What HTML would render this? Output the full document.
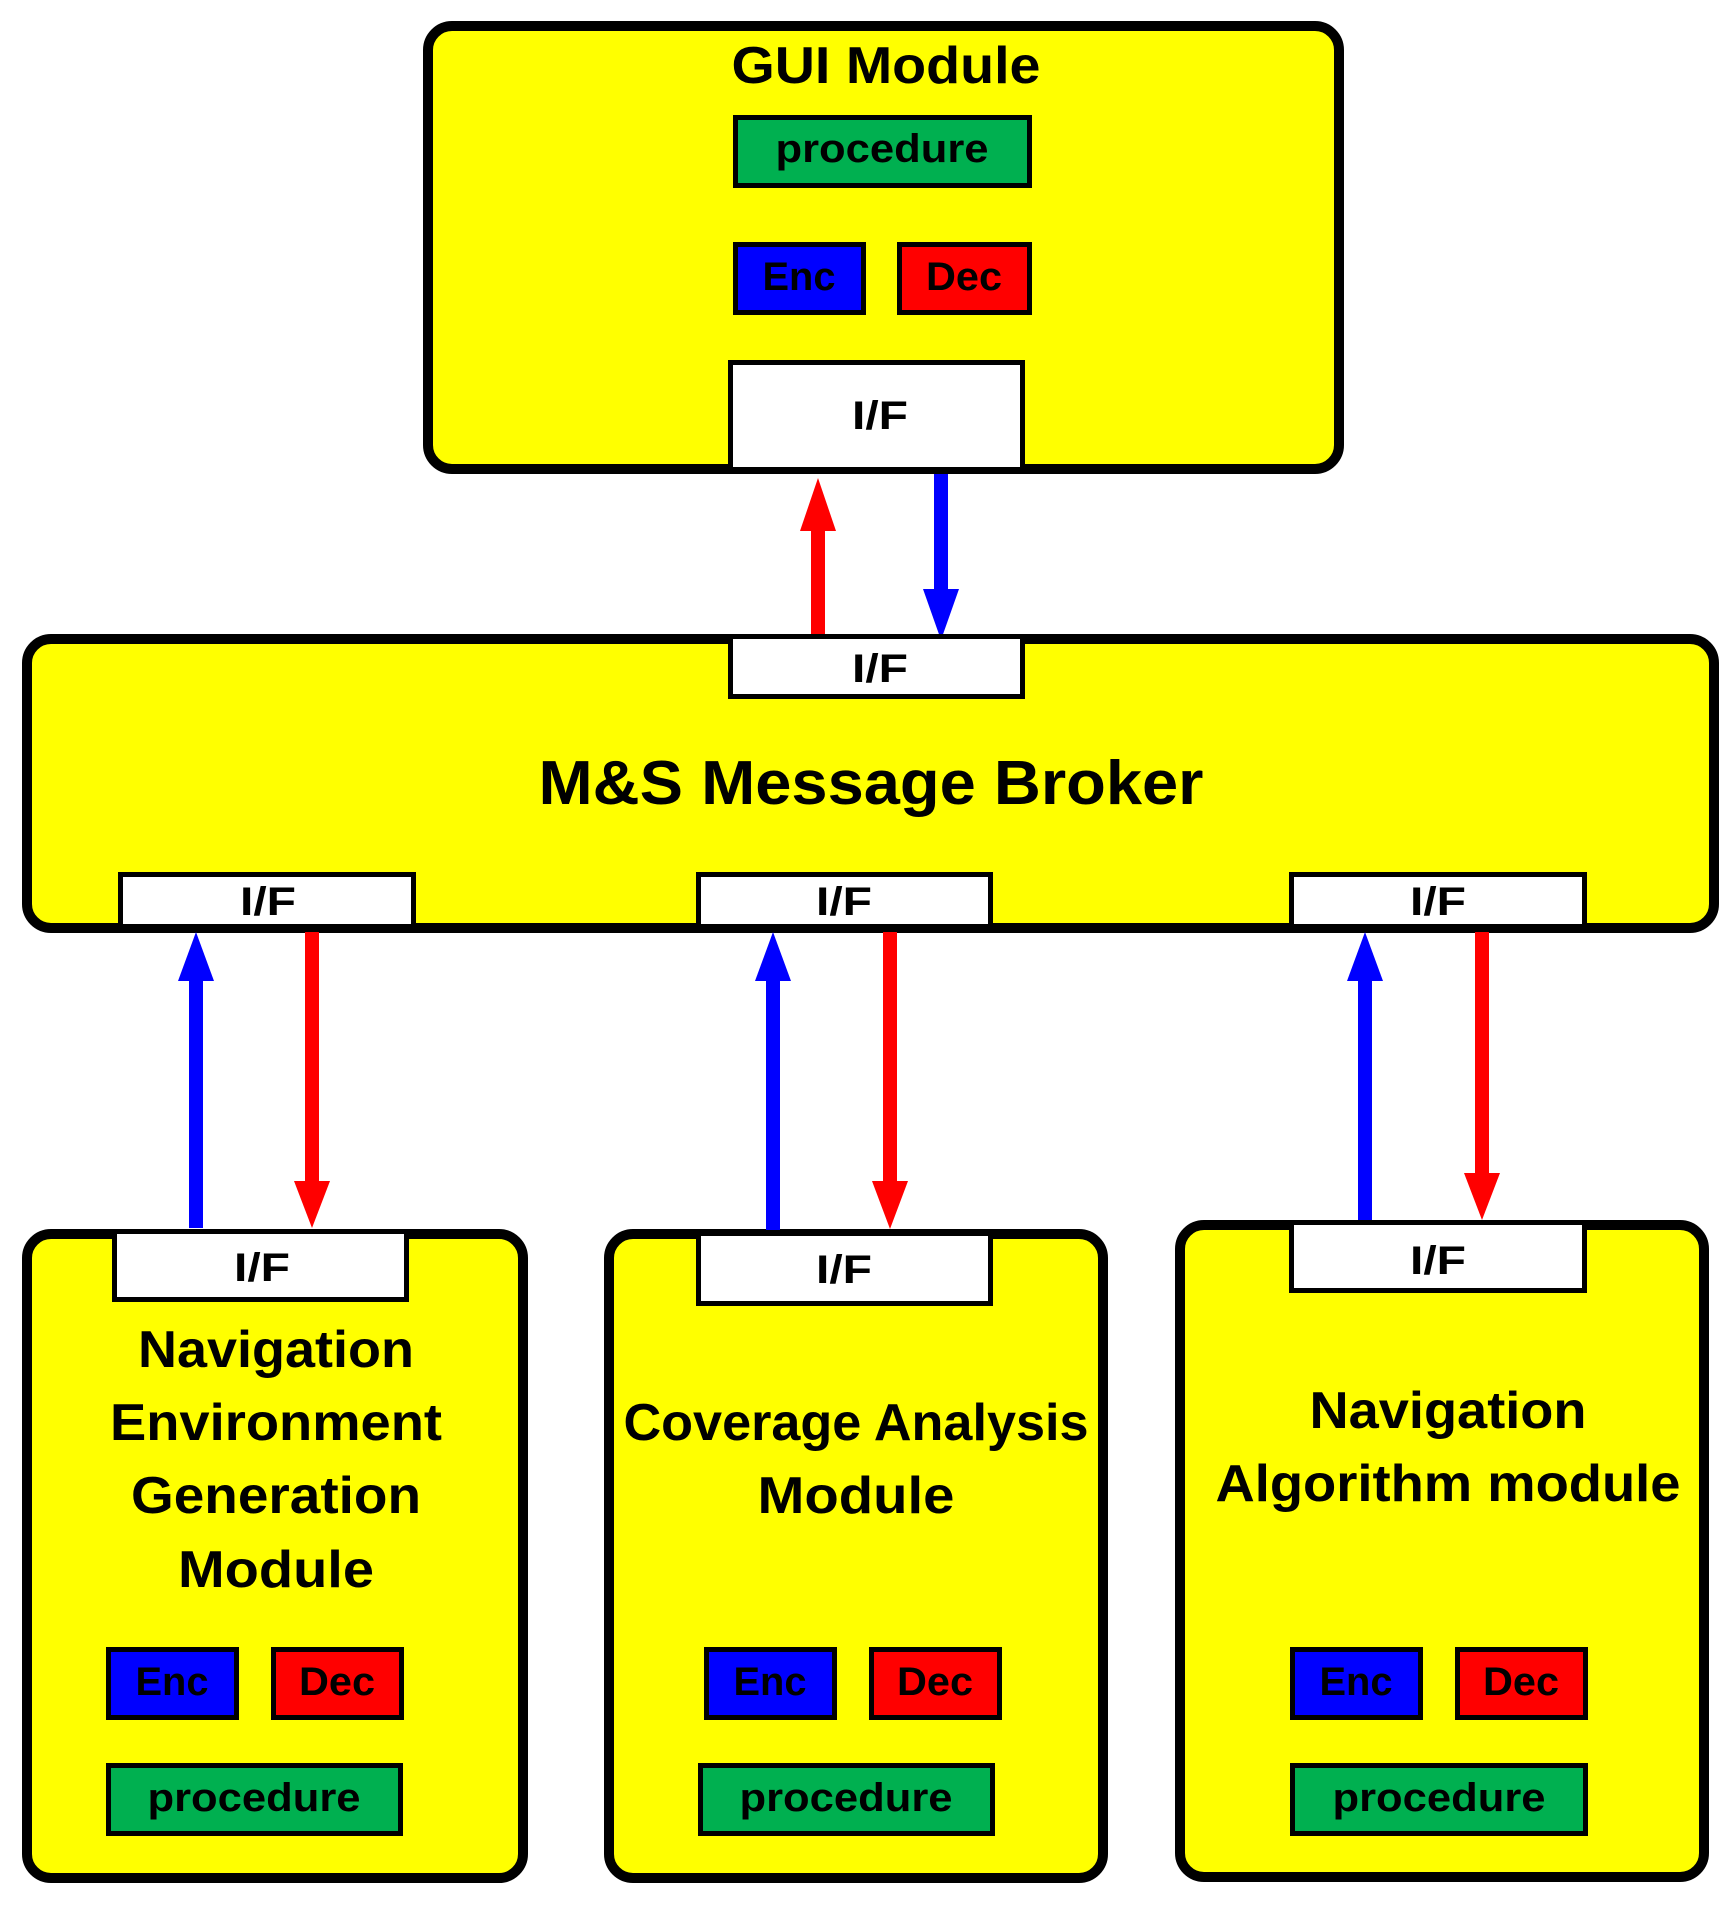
<!DOCTYPE html>
<html><head><meta charset="utf-8"><style>
html,body{margin:0;padding:0;background:#fff;}
svg{display:block;}
text{font-family:"Liberation Sans",sans-serif;font-weight:bold;fill:#000;text-anchor:middle;}
</style></head><body>
<svg width="1735" height="1906" viewBox="0 0 1735 1906" xmlns="http://www.w3.org/2000/svg">
<g stroke="#000" stroke-width="10" fill="#ffff00">
<rect x="428" y="26" width="911" height="443" rx="24"/>
<rect x="27" y="639" width="1687" height="289" rx="24"/>
<rect x="27" y="1234" width="496" height="644" rx="24"/>
<rect x="609" y="1234" width="494" height="644" rx="24"/>
<rect x="1180" y="1225" width="524" height="652" rx="24"/>
</g>
<g>
<rect x="811" y="528" width="14" height="112" fill="#ff0000"/><polygon points="818,478 800,531 836,531" fill="#ff0000"/>
<rect x="934" y="474" width="14" height="115" fill="#0000ff"/><polygon points="941,640 923,589 959,589" fill="#0000ff"/>

<rect x="189" y="980" width="14" height="248" fill="#0000ff"/><polygon points="196,932 178,981 214,981" fill="#0000ff"/>
<rect x="305" y="932" width="14" height="250" fill="#ff0000"/><polygon points="312,1228 294,1181 330,1181" fill="#ff0000"/>

<rect x="766" y="980" width="14" height="250" fill="#0000ff"/><polygon points="773,932 755,981 791,981" fill="#0000ff"/>
<rect x="883" y="932" width="14" height="250" fill="#ff0000"/><polygon points="890,1229 872,1181 908,1181" fill="#ff0000"/>

<rect x="1358" y="980" width="14" height="242" fill="#0000ff"/><polygon points="1365,932 1347,981 1383,981" fill="#0000ff"/>
<rect x="1475" y="932" width="14" height="242" fill="#ff0000"/><polygon points="1482,1220 1464,1173 1500,1173" fill="#ff0000"/>
</g>
<g stroke="#000" stroke-width="5" fill="#fff">
<rect x="730.5" y="362.5" width="292" height="107"/>
<rect x="730.5" y="636.5" width="292" height="60"/>
<rect x="120.5" y="874.5" width="293" height="52"/>
<rect x="698.5" y="874.5" width="292" height="52"/>
<rect x="1291.5" y="874.5" width="293" height="52"/>
<rect x="114.5" y="1231.5" width="292" height="68"/>
<rect x="698.5" y="1233.5" width="292" height="70"/>
<rect x="1291.5" y="1222.5" width="293" height="68"/>
</g>
<g stroke="#000" stroke-width="5">
<rect x="735.5" y="117.5" width="294" height="68" fill="#00b050"/>
<rect x="735.5" y="244.5" width="128" height="68" fill="#0000ff"/>
<rect x="899.5" y="244.5" width="130" height="68" fill="#ff0000"/>

<rect x="108.5" y="1649.5" width="128" height="68" fill="#0000ff"/>
<rect x="273.5" y="1649.5" width="128" height="68" fill="#ff0000"/>
<rect x="108.5" y="1765.5" width="292" height="68" fill="#00b050"/>

<rect x="706.5" y="1649.5" width="128" height="68" fill="#0000ff"/>
<rect x="871.5" y="1649.5" width="128" height="68" fill="#ff0000"/>
<rect x="700.5" y="1765.5" width="292" height="68" fill="#00b050"/>

<rect x="1292.5" y="1649.5" width="128" height="68" fill="#0000ff"/>
<rect x="1457.5" y="1649.5" width="128" height="68" fill="#ff0000"/>
<rect x="1292.5" y="1765.5" width="293" height="68" fill="#00b050"/>
</g>
<g font-size="52">
<text x="886" y="83" textLength="309" lengthAdjust="spacingAndGlyphs">GUI Module</text>
<text x="276" y="1367" textLength="276" lengthAdjust="spacingAndGlyphs">Navigation</text>
<text x="276" y="1440" textLength="332" lengthAdjust="spacingAndGlyphs">Environment</text>
<text x="276" y="1513" textLength="290" lengthAdjust="spacingAndGlyphs">Generation</text>
<text x="276" y="1587" textLength="196" lengthAdjust="spacingAndGlyphs">Module</text>
<text x="856" y="1440" textLength="465" lengthAdjust="spacingAndGlyphs">Coverage Analysis</text>
<text x="856" y="1513" textLength="197" lengthAdjust="spacingAndGlyphs">Module</text>
<text x="1448" y="1428" textLength="277" lengthAdjust="spacingAndGlyphs">Navigation</text>
<text x="1448" y="1501" textLength="465" lengthAdjust="spacingAndGlyphs">Algorithm module</text>
</g>
<text x="871" y="804" font-size="62" textLength="665" lengthAdjust="spacingAndGlyphs">M&amp;S Message Broker</text>
<g font-size="40">
<text x="882" y="162" textLength="213" lengthAdjust="spacingAndGlyphs">procedure</text>
<text x="799" y="290" textLength="73" lengthAdjust="spacingAndGlyphs">Enc</text>
<text x="964" y="290" textLength="76" lengthAdjust="spacingAndGlyphs">Dec</text>

<text x="172" y="1695" textLength="73" lengthAdjust="spacingAndGlyphs">Enc</text>
<text x="337" y="1695" textLength="76" lengthAdjust="spacingAndGlyphs">Dec</text>
<text x="254" y="1811" textLength="213" lengthAdjust="spacingAndGlyphs">procedure</text>

<text x="770" y="1695" textLength="73" lengthAdjust="spacingAndGlyphs">Enc</text>
<text x="935" y="1695" textLength="76" lengthAdjust="spacingAndGlyphs">Dec</text>
<text x="846" y="1811" textLength="213" lengthAdjust="spacingAndGlyphs">procedure</text>

<text x="1356" y="1695" textLength="73" lengthAdjust="spacingAndGlyphs">Enc</text>
<text x="1521" y="1695" textLength="76" lengthAdjust="spacingAndGlyphs">Dec</text>
<text x="1439" y="1811" textLength="213" lengthAdjust="spacingAndGlyphs">procedure</text>

<text x="880" y="429" textLength="56" lengthAdjust="spacingAndGlyphs">I/F</text>
<text x="880" y="682" textLength="56" lengthAdjust="spacingAndGlyphs">I/F</text>
<text x="268" y="915" textLength="56" lengthAdjust="spacingAndGlyphs">I/F</text>
<text x="844" y="915" textLength="56" lengthAdjust="spacingAndGlyphs">I/F</text>
<text x="1438" y="915" textLength="56" lengthAdjust="spacingAndGlyphs">I/F</text>
<text x="262" y="1281" textLength="56" lengthAdjust="spacingAndGlyphs">I/F</text>
<text x="844" y="1283" textLength="56" lengthAdjust="spacingAndGlyphs">I/F</text>
<text x="1438" y="1274" textLength="56" lengthAdjust="spacingAndGlyphs">I/F</text>
</g>
</svg>
</body></html>
